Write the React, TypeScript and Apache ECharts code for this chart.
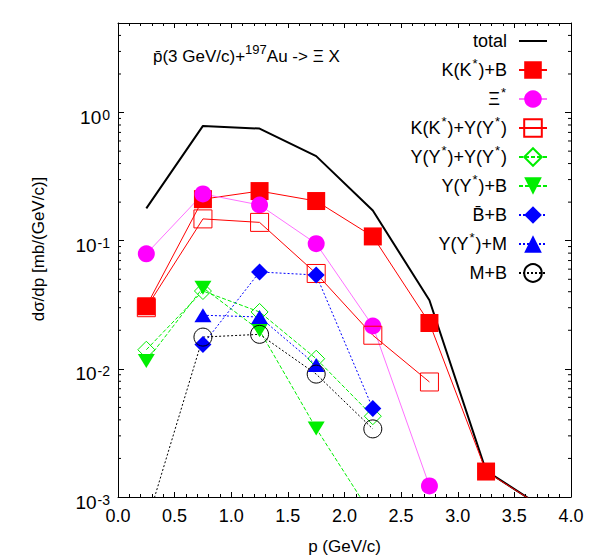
import React, { useEffect, useRef } from 'react';
import * as echarts from 'echarts';

// momentum bins (GeV/c)
const momenta = [0.25, 0.75, 1.25, 1.75, 2.25, 2.75, 3.25, 3.75];

// dσ/dp values (mb/(GeV/c)); null = no point
const total = [0.179, 0.787, 0.75, 0.457, 0.172, 0.0343, 0.0016, 0.00083];
const kkB = [0.0308, 0.211, 0.244, 0.204, 0.108, 0.0228, 0.00158, 0.00083];
const xiStar = [0.079, 0.232, 0.19, 0.0948, 0.0216, 0.00122, null, null];
const kkYY = [0.03, 0.148, 0.139, 0.0555, 0.0183, 0.0079, null, null];
const yyYY = [0.0141, 0.0405, 0.0278, 0.012, 0.00427, null, null, null];
const yyB = [0.0115, 0.043, 0.02, 0.00343, 0.0007, null, null, null];
const bbarB = [null, 0.0155, 0.057, 0.054, 0.0049, null, null, null];
const yyM = [null, 0.0262, 0.0254, 0.0107, null, null, null, null];
const mB = [0.00061, 0.0177, 0.0186, 0.0091, 0.0034, null, null, null];

// series names
const names = [
  'total',
  'K(K*)+B',
  'Ξ*',
  'K(K*)+Y(Y*)',
  'Y(Y*)+Y(Y*)',
  'Y(Y*)+B',
  'B̄+B',
  'Y(Y*)+M',
  'M+B',
];

// y-axis minor tick values (log scale 2..9 per decade)
const yMinorTicks = [
  0.002, 0.003, 0.004, 0.005, 0.006, 0.007, 0.008, 0.009,
  0.02, 0.03, 0.04, 0.05, 0.06, 0.07, 0.08, 0.09,
  0.2, 0.3, 0.4, 0.5, 0.6, 0.7, 0.8, 0.9,
  2, 3, 4,
];

const FONT = '"Liberation Sans", Arial, Helvetica, sans-serif';

function pairs(vals: (number | null)[]) {
  const out: number[][] = [];
  vals.forEach((v, i) => {
    if (v !== null) out.push([momenta[i], v]);
  });
  return out;
}

function richName(name: string) {
  return name.replace(/\*/g, '{s|*}');
}

export default function App() {
  const ref = useRef<HTMLDivElement>(null);
  useEffect(() => {
    if (!ref.current) return;
    const chart = echarts.init(ref.current, null, { renderer: 'svg' });

    const TRANSPARENT = 'rgba(0,0,0,0)';
    const supStyle = {
      fontSize: 13,
      verticalAlign: 'top',
      lineHeight: 12,
      fontFamily: FONT,
      color: '#000',
      padding: [0, 1, 0, 1],
    };

    const mk = (
      name: string,
      vals: (number | null)[],
      color: string,
      symbol: string,
      symbolSize: any,
      filled: boolean,
      lineType: any,
      lineWidth = 1,
      rotate = 0,
      lineColor?: string
    ) => ({
      type: 'line',
      name,
      data: pairs(vals),
      symbol,
      symbolSize,
      symbolRotate: rotate,
      showSymbol: symbol !== 'none',
      lineStyle: { color: lineColor || color, width: lineWidth, type: lineType },
      itemStyle: filled
        ? { color, borderWidth: 0 }
        : { color: TRANSPARENT, borderColor: color, borderWidth: 1 },
      xAxisIndex: 0,
      yAxisIndex: 0,
      z: 3,
    });

    const option: any = {
      animation: false,
      textStyle: { fontFamily: FONT },
      title: {
        text: '{a|p̄(3 GeV/c)+}{s|197}{a|Au -> Ξ X}',
        left: 148,
        top: 38,
        textStyle: {
          fontFamily: FONT,
          fontWeight: 'normal',
          rich: {
            a: { fontSize: 17, lineHeight: 26, fontFamily: FONT, color: '#000' },
            s: { ...supStyle, padding: [0, 0, 0, 0] },
          },
        },
      },
      grid: { left: 118, right: 29, top: 23, bottom: 63 },
      legend: {
        orient: 'vertical',
        right: 52,
        top: 28,
        padding: 0,
        align: 'right',
        itemWidth: 28,
        itemHeight: 22,
        itemGap: 3,
        selectedMode: false,
        data: names.map((n) =>
          n === 'total' ? { name: n, icon: 'path://M0,0H28V2H0Z' } : { name: n }
        ),
        formatter: (name: string) => richName(name),
        textStyle: {
          fontFamily: FONT,
          fontSize: 18,
          lineHeight: 26,
          color: '#000',
          padding: [0, 7, 0, 0],
          rich: { s: supStyle },
        },
      },
      xAxis: [
        {
          type: 'value',
          min: 0,
          max: 4,
          interval: 0.5,
          name: 'p (GeV/c)',
          nameLocation: 'middle',
          nameGap: 41,
          nameTextStyle: { fontFamily: FONT, fontSize: 17, color: '#000' },
          axisLine: { show: true, onZero: false, lineStyle: { color: '#000', width: 1 } },
          axisTick: { show: true, inside: true, length: 5, lineStyle: { color: '#000' } },
          minorTick: { show: true, splitNumber: 5, length: 3, lineStyle: { color: '#000' } },
          splitLine: { show: false },
          axisLabel: {
            fontFamily: FONT,
            fontSize: 18,
            color: '#000',
            margin: 10,
            formatter: (v: number) => v.toFixed(1),
          },
        },
        {
          type: 'value',
          position: 'top',
          min: 0,
          max: 4,
          interval: 0.5,
          axisLine: { show: true, onZero: false, lineStyle: { color: '#000', width: 1 } },
          axisTick: { show: true, inside: true, length: 5, lineStyle: { color: '#000' } },
          minorTick: { show: true, splitNumber: 5, length: 3, lineStyle: { color: '#000' } },
          splitLine: { show: false },
          axisLabel: { show: false },
        },
      ],
      yAxis: [
        {
          type: 'log',
          logBase: 10,
          min: 0.001,
          max: 5,
          name: 'dσ/dp [mb/(GeV/c)]',
          nameLocation: 'middle',
          nameGap: 71,
          nameTextStyle: { fontFamily: FONT, fontSize: 17, color: '#000', padding: [0, 0, 0, 22] },
          axisLine: { show: true, onZero: false, lineStyle: { color: '#000', width: 1 } },
          axisTick: { show: true, inside: true, length: 6, lineStyle: { color: '#000' } },
          splitLine: { show: false },
          axisLabel: {
            fontFamily: FONT,
            fontSize: 19,
            color: '#000',
            margin: 8,
            padding: [10, 0, 0, 0],
            formatter: (v: number) => {
              const e = Math.log10(v);
              const r = Math.round(e);
              if (Math.abs(e - r) > 1e-6) return '';
              return `10{s|${r}}`;
            },
            rich: { s: { ...supStyle, fontSize: 14, padding: [0, 0, 0, 1] } },
          },
        },
        {
          type: 'log',
          logBase: 10,
          min: 0.001,
          max: 5,
          position: 'right',
          axisLine: { show: true, onZero: false, lineStyle: { color: '#000', width: 1 } },
          axisTick: { show: true, inside: true, length: 6, lineStyle: { color: '#000' } },
          splitLine: { show: false },
          axisLabel: { show: false },
        },
      ],
      series: [
        {
          type: 'custom',
          name: '__minor',
          silent: true,
          xAxisIndex: 0,
          yAxisIndex: 0,
          clip: false,
          data: yMinorTicks.map((v) => [0, v]),
          encode: { x: 0, y: 1 },
          renderItem: (params: any, api: any) => {
            const cs = params.coordSys;
            const pt = api.coord([0, api.value(1)]);
            const y = pt[1];
            return {
              type: 'group',
              children: [
                {
                  type: 'line',
                  shape: { x1: cs.x, y1: y, x2: cs.x + 3, y2: y },
                  style: { stroke: '#000', lineWidth: 1 },
                },
                {
                  type: 'line',
                  shape: { x1: cs.x + cs.width - 3, y1: y, x2: cs.x + cs.width, y2: y },
                  style: { stroke: '#000', lineWidth: 1 },
                },
              ],
            };
          },
        },
        mk('total', total, '#000', 'none', 0, true, 'solid', 2),
        mk('K(K*)+B', kkB, '#ff0000', 'rect', 18, true, 'solid'),
        mk('Ξ*', xiStar, '#ff00ff', 'circle', 17, true, 'solid', 1, 0, '#ff70ff'),
        mk('K(K*)+Y(Y*)', kkYY, '#ff0000', 'rect', 18, false, 'solid'),
        mk('Y(Y*)+Y(Y*)', yyYY, '#00ee00', 'diamond', 17, false, [4, 2]),
        mk('Y(Y*)+B', yyB, '#00ee00', 'triangle', [17, 14], true, [4, 2], 1, 180),
        mk('B̄+B', bbarB, '#0000ff', 'diamond', 17, true, [2, 2]),
        mk('Y(Y*)+M', yyM, '#0000ff', 'triangle', [17, 14], true, [2, 2]),
        mk('M+B', mB, '#000000', 'circle', 18, false, [2, 2]),
      ],
    };

    chart.setOption(option);
    return () => chart.dispose();
  }, []);

  return (
    <div
      ref={ref}
      style={{ position: 'absolute', left: 0, top: 0, width: 600, height: 560, background: '#fff' }}
    />
  );
}
